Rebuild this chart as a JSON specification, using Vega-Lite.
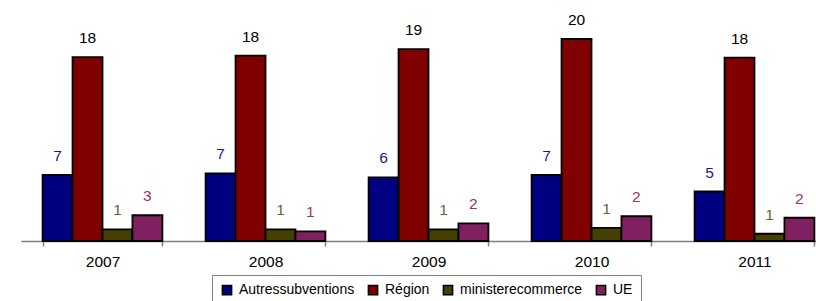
{
  "$schema": "https://vega.github.io/schema/vega-lite/v6.json",
  "width": 815,
  "height": 241,
  "padding": {"left": 21, "top": 0, "right": 0, "bottom": 0},
  "background": "white",
  "config": {"view": {"stroke": null}, "font": "Liberation Sans"},
  "data": {
    "values": [
      {"annee": "2007", "serie": "Autressubventions", "valeur": 6.55, "label": "7"},
      {"annee": "2007", "serie": "Région", "valeur": 18.2, "label": "18"},
      {"annee": "2007", "serie": "ministerecommerce", "valeur": 1.16, "label": "1"},
      {"annee": "2007", "serie": "UE", "valeur": 2.55, "label": "3"},
      {"annee": "2008", "serie": "Autressubventions", "valeur": 6.7, "label": "7"},
      {"annee": "2008", "serie": "Région", "valeur": 18.35, "label": "18"},
      {"annee": "2008", "serie": "ministerecommerce", "valeur": 1.16, "label": "1"},
      {"annee": "2008", "serie": "UE", "valeur": 0.96, "label": "1"},
      {"annee": "2009", "serie": "Autressubventions", "valeur": 6.3, "label": "6"},
      {"annee": "2009", "serie": "Région", "valeur": 19.0, "label": "19"},
      {"annee": "2009", "serie": "ministerecommerce", "valeur": 1.16, "label": "1"},
      {"annee": "2009", "serie": "UE", "valeur": 1.75, "label": "2"},
      {"annee": "2010", "serie": "Autressubventions", "valeur": 6.55, "label": "7"},
      {"annee": "2010", "serie": "Région", "valeur": 20.0, "label": "20"},
      {"annee": "2010", "serie": "ministerecommerce", "valeur": 1.3, "label": "1"},
      {"annee": "2010", "serie": "UE", "valeur": 2.45, "label": "2"},
      {"annee": "2011", "serie": "Autressubventions", "valeur": 4.9, "label": "5"},
      {"annee": "2011", "serie": "Région", "valeur": 18.15, "label": "18"},
      {"annee": "2011", "serie": "ministerecommerce", "valeur": 0.72, "label": "1"},
      {"annee": "2011", "serie": "UE", "valeur": 2.3, "label": "2"}
    ]
  },
  "encoding": {
    "x": {
      "field": "annee", "type": "nominal", "title": null,
      "scale": {"paddingInner": 0.265, "paddingOuter": 0.1325},
      "axis": {
        "labelAngle": 0, "labelFontSize": 15.5, "labelColor": "black", "labelPadding": 8,
        "tickBand": "extent", "tickSize": 5, "tickColor": "#808080", "domainColor": "#808080",
        "domainWidth": 1.5, "tickWidth": 1.5
      }
    },
    "xOffset": {
      "field": "serie", "type": "nominal",
      "sort": ["Autressubventions", "Région", "ministerecommerce", "UE"],
      "scale": {"paddingInner": 0, "paddingOuter": 0}
    },
    "y": {
      "field": "valeur", "type": "quantitative", "title": null,
      "scale": {"domain": [0, 23.86], "nice": false},
      "axis": null
    }
  },
  "layer": [
    {
      "mark": {"type": "bar", "stroke": "black", "strokeWidth": 1.8},
      "encoding": {
        "color": {
          "field": "serie", "type": "nominal",
          "sort": ["Autressubventions", "Région", "ministerecommerce", "UE"],
          "scale": {
            "domain": ["Autressubventions", "Région", "ministerecommerce", "UE"],
            "range": ["#000080", "#800000", "#453F00", "#802060"]
          },
          "legend": {
            "title": null, "orient": "none", "legendX": 191, "legendY": 275,
            "direction": "horizontal", "symbolType": "square", "symbolSize": 85,
            "symbolStrokeColor": "black", "symbolStrokeWidth": 1.5,
            "labelFontSize": 14, "labelColor": "black", "columnPadding": 10,
            "strokeColor": "#808080", "padding": 8, "labelOffset": 5,
            "fillColor": "white"
          }
        }
      }
    },
    {
      "mark": {"type": "text", "baseline": "alphabetic", "dy": -14, "fontSize": 15.5},
      "encoding": {
        "text": {"field": "label"},
        "color": {
          "field": "serie", "type": "nominal",
          "scale": {
            "domain": ["Autressubventions", "Région", "ministerecommerce", "UE"],
            "range": ["#1a1a99", "#000000", "#666633", "#993366"]
          },
          "legend": null
        }
      }
    }
  ],
  "resolve": {"scale": {"color": "independent"}}
}
